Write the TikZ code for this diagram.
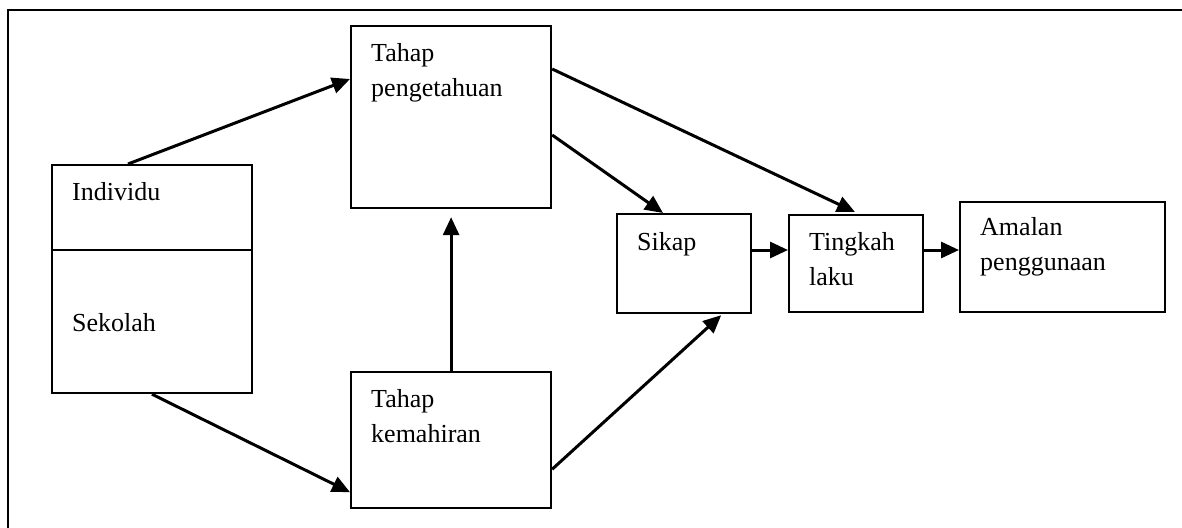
\documentclass[tikz,border=0pt]{standalone}
\usepackage{fontspec}
\setmainfont{Liberation Serif}
\usetikzlibrary{arrows.meta}
\begin{document}
\begin{tikzpicture}[x=1pt,y=-1pt,
  box/.style={draw, line width=2.2pt, inner sep=0pt, anchor=north west},
  lbl/.style={inner sep=0pt, anchor=base west, align=left, font=\fontsize{26}{35}\selectfont},
  conn/.style={line width=3pt, -{Triangle[length=18pt,width=16pt]}},
  frameline/.style={line width=2.8pt}]
\useasboundingbox (0,0) rectangle (1182,527);
% frame (open at right and bottom)
\coordinate (fr1) at (8,530);
\coordinate (fr2) at (8,10);
\coordinate (fr3) at (1190,10);
\draw[frameline] (fr1) -- (fr2) -- (fr3);
% boxes
\node[box, minimum width=200pt, minimum height=228pt] (ind) at (51,164) {};
\node[box, minimum width=200pt, minimum height=182pt] (pen) at (350,25) {};
\node[box, minimum width=200pt, minimum height=136pt] (kem) at (350,371) {};
\node[box, minimum width=134pt, minimum height=99pt] (sik) at (616,213) {};
\node[box, minimum width=134pt, minimum height=97pt] (tin) at (788,214) {};
\node[box, minimum width=205pt, minimum height=110pt] (ama) at (959,201) {};
\draw[line width=2.2pt] ([yshift=-86pt]ind.north west) -- ([yshift=-86pt]ind.north east);
% labels (base anchor = baseline of the last line)
\node[lbl] (tind) at (72,200) {Individu};
\node[lbl] (tsek) at (72,331) {Sekolah};
\node[lbl] (tpen) at (371,96) {Tahap\\pengetahuan};
\node[lbl] (tkem) at (371,442) {Tahap\\kemahiran};
\node[lbl] (tsik) at (637,250) {Sikap};
\node[lbl] (ttin) at (809,285) {Tingkah\\laku};
\node[lbl] (tama) at (980,270) {Amalan\\penggunaan};
% connectors
\draw[conn] ([xshift=77pt]ind.north west) -- ([yshift=-54pt]pen.north west);
\draw[conn] ([xshift=101pt]ind.south west) -- ([yshift=17pt]kem.south west);
\draw[conn] (kem.north) -- ([yshift=-8pt]pen.south);
\draw[conn] ([yshift=-110pt]pen.north east) -- ([xshift=47pt]sik.north west);
\draw[conn] ([yshift=-44pt]pen.north east) -- ([xshift=67pt,yshift=2pt]tin.north west);
\draw[conn] ([yshift=40pt]kem.south east) -- ([xshift=-31pt,yshift=-1pt]sik.south east);
\draw[conn] ([yshift=-37pt]sik.north east) -- ([yshift=-36pt]tin.north west);
\draw[conn] ([yshift=-36pt]tin.north east) -- (ama.west |- 0,250);
\end{tikzpicture}
\end{document}
